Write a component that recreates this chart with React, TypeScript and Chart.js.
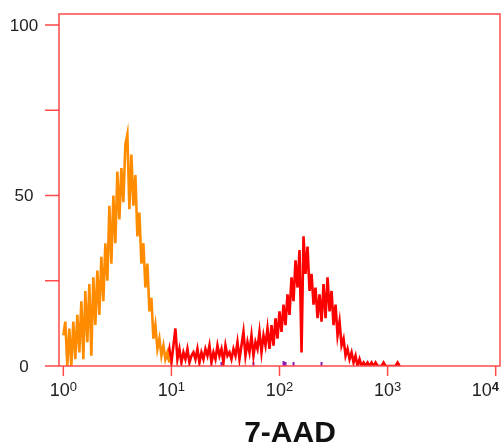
import React, { useEffect, useRef } from "react";
import { Chart, registerables } from "chart.js";

Chart.register(...registerables);

// Histogram channels: bin i sits at 10^(i / binsPerDecade)
const binsPerDecade = 54;

// Unstained / live population (orange)
const orangeStartBin = 0;
const orangeCounts = [
  9, 13, 0, 11, 0, 13, 2, 15, 4, 19,
  2, 22, 7, 24, 3, 26, 12, 28, 15, 32,
  19, 36, 25, 47, 30, 50, 36, 57, 43, 58,
  48, 65, 68, 46, 62, 47, 56, 38, 45, 30,
  36, 23, 30, 16, 20, 8, 12, 5, 8, 3,
  6, 2, 4, 1,
];

// 7-AAD positive population (red)
const redStartBin = 52;
const redCounts = [
  2, 5, 1, 6, 11, 2, 5, 1, 4, 2,
  5, 1, 3, 4, 2, 5, 1, 4, 2, 5,
  3, 6, 1, 4, 2, 6, 3, 5, 1, 6,
  3, 4, 2, 5, 3, 7, 2, 6, 10, 3,
  7, 4, 9, 3, 7, 5, 10, 4, 9, 6,
  11, 5, 12, 6, 14, 8, 16, 10, 18, 12,
  21, 15, 26, 19, 31, 23, 34, 4, 38, 27,
  35, 22, 27, 18, 23, 14, 21, 13, 24, 14,
  26, 16, 22, 12, 18, 9, 13, 6, 8, 3,
  5, 2, 4, 1, 3, 0, 2, 0, 1, 0,
  1, 0, 1, 0, 1, 0, 0, 0, 1, 0,
  0, 0, 0, 0, 0, 1, 0,
];

// Sparse third population (purple)
const purpleBins = [79, 95, 110, 111, 115, 129];
const purpleCounts = [1.2, 1.2, 1.5, 1.2, 1.2, 1.2];

const xTickExponents = [0, 1, 2, 3, 4];
const yTickValues = [0, 25, 50, 75, 100];
const yLabelValues = [0, 50, 100];
const axisTitle = "7-AAD";

const orangeColor = "#ff8c00";
const redColor = "#ff0000";
const purpleColor = "#8a1ab0";
const axisColor = "#ff4a4a";
const textColor = "#222222";

const binToValue = (b: number) => Math.pow(10, b / binsPerDecade);

const toPoints = (start: number, counts: number[]) =>
  counts.map((c, i) => ({ x: binToValue(start + i), y: c }));

const purplePoints = () => {
  const pts: { x: number; y: number | null }[] = [];
  purpleBins.forEach((b, i) => {
    const xv = binToValue(b);
    pts.push({ x: xv, y: 0 }, { x: xv, y: purpleCounts[i] }, { x: xv, y: 0 }, { x: xv, y: null });
  });
  return pts;
};

const axesPlugin = {
  id: "flowAxes",
  afterDatasetsDraw(chart: any) {
    const { ctx, chartArea, scales } = chart;
    const { left, top, right, bottom } = chartArea;
    const xs = scales.x;
    const ys = scales.y;
    ctx.save();
    ctx.strokeStyle = axisColor;
    ctx.lineWidth = 1.5;
    ctx.strokeRect(left, top, right - left, bottom - top);
    ctx.beginPath();
    yTickValues.forEach((v) => {
      const py = ys.getPixelForValue(v);
      ctx.moveTo(left - 14, py);
      ctx.lineTo(left, py);
    });
    xTickExponents.forEach((e) => {
      const px = xs.getPixelForValue(Math.pow(10, e));
      ctx.moveTo(px, bottom);
      ctx.lineTo(px, bottom + 10);
    });
    ctx.stroke();

    ctx.fillStyle = textColor;
    ctx.font = '17px "Liberation Sans", Arial, sans-serif';
    ctx.textAlign = "center";
    ctx.textBaseline = "middle";
    yLabelValues.forEach((v) => {
      ctx.fillText(String(v), left - 35, ys.getPixelForValue(v) + 1);
    });

    ctx.textAlign = "left";
    ctx.textBaseline = "alphabetic";
    xTickExponents.forEach((e) => {
      const px = xs.getPixelForValue(Math.pow(10, e));
      const baseFont = '18px "Liberation Sans", Arial, sans-serif';
      const supFont = (e === 4 ? "bold " : "") + '13px "Liberation Sans", Arial, sans-serif';
      ctx.font = baseFont;
      const w1 = ctx.measureText("10").width;
      ctx.font = supFont;
      const w2 = ctx.measureText(String(e)).width;
      let start = px - (w1 + w2) / 2;
      if (start + w1 + w2 > chart.width - 2) start = chart.width - 2 - w1 - w2;
      ctx.font = baseFont;
      ctx.fillText("10", start, bottom + 30);
      ctx.font = supFont;
      ctx.fillText(String(e), start + w1, bottom + 25);
    });

    ctx.fillStyle = "#111111";
    ctx.font = 'bold 30px "Liberation Sans", Arial, sans-serif';
    ctx.textAlign = "center";
    ctx.fillText(axisTitle, 290, bottom + 76);
    ctx.restore();
  },
};

export default function App() {
  const canvasRef = useRef<HTMLCanvasElement | null>(null);

  useEffect(() => {
    document.body.style.margin = "0";
    const canvas = canvasRef.current;
    if (!canvas) return;
    const chart = new Chart(canvas, {
      type: "line",
      data: {
        datasets: [
          {
            data: toPoints(orangeStartBin, orangeCounts),
            borderColor: orangeColor,
            borderWidth: 2.6,
            pointRadius: 0,
            tension: 0,
            fill: false,
          },
          {
            data: toPoints(redStartBin, redCounts),
            borderColor: redColor,
            borderWidth: 2.6,
            pointRadius: 0,
            tension: 0,
            fill: false,
          },
          {
            data: purplePoints(),
            borderColor: purpleColor,
            borderWidth: 2,
            pointRadius: 0,
            fill: false,
          },
        ],
      } as any,
      options: {
        responsive: false,
        animation: false,
        layout: { padding: { left: 59, top: 14, right: 1, bottom: 80 } },
        scales: {
          x: {
            type: "logarithmic",
            min: Math.pow(10, -0.04),
            max: Math.pow(10, 4.04),
            display: false,
          },
          y: { type: "linear", min: 0, max: 103.2, display: false },
        },
        plugins: { legend: { display: false }, tooltip: { enabled: false } },
      } as any,
      plugins: [axesPlugin],
    });
    return () => chart.destroy();
  }, []);

  return (
    <div style={{ width: 501, height: 446, background: "#ffffff" }}>
      <canvas ref={canvasRef} width={501} height={446} style={{ display: "block" }} />
    </div>
  );
}
